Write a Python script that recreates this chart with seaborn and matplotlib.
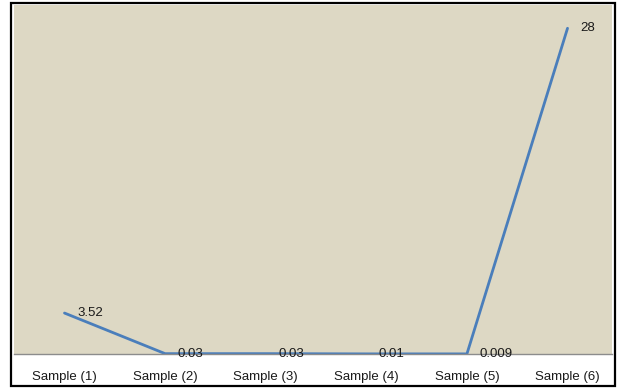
import matplotlib
matplotlib.use("Agg")
import matplotlib.pyplot as plt
import seaborn as sns
import pandas as pd
from matplotlib.patches import Rectangle

categories = ["Sample (1)", "Sample (2)", "Sample (3)", "Sample (4)", "Sample (5)", "Sample (6)"]
values = [3.52, 0.03, 0.03, 0.01, 0.009, 28]
value_labels = ["3.52", "0.03", "0.03", "0.01", "0.009", "28"]

sns.set_theme(style="white")
plt.rcParams["font.family"] = ["Liberation Sans", "DejaVu Sans"]

df = pd.DataFrame({"sample": categories, "value": values})

W, H = 618, 389
fig = plt.figure(figsize=(W / 100, H / 100), dpi=100)
fig.patch.set_facecolor("white")

# plot area
ax = fig.add_axes([14 / W, 1 - 354 / H, (612 - 14) / W, (354 - 5) / H])
ax.set_facecolor("#DDD8C4")

sns.lineplot(data=df, x="sample", y="value", ax=ax, color="#4A7EBB",
             linewidth=2.0, sort=False)

ax.set_xlim(-0.502, 5.442)
ax.set_ylim(0, 30)
ax.set_xlabel("")
ax.set_ylabel("")
ax.set_yticks([])
ax.tick_params(axis="x", length=0, pad=12.3, labelsize=9.5, labelcolor="#1a1a1a")

for side in ["top", "left", "right"]:
    ax.spines[side].set_visible(False)
ax.spines["bottom"].set_color("#8C8C8C")
ax.spines["bottom"].set_linewidth(1.0)

for i, (v, lab) in enumerate(zip(values, value_labels)):
    ax.annotate(lab, xy=(i, v), xytext=(9, 0), textcoords="offset points",
                ha="left", va="center", fontsize=9.5, color="#1a1a1a",
                annotation_clip=False)

# outer frame
fig.patches.append(Rectangle((10.5 / W, 1 - 386 / H), (615 - 10.5) / W, (386 - 2.5) / H,
                             transform=fig.transFigure, fill=False,
                             edgecolor="black", linewidth=1.6))

fig.savefig("out.png", dpi=100)
